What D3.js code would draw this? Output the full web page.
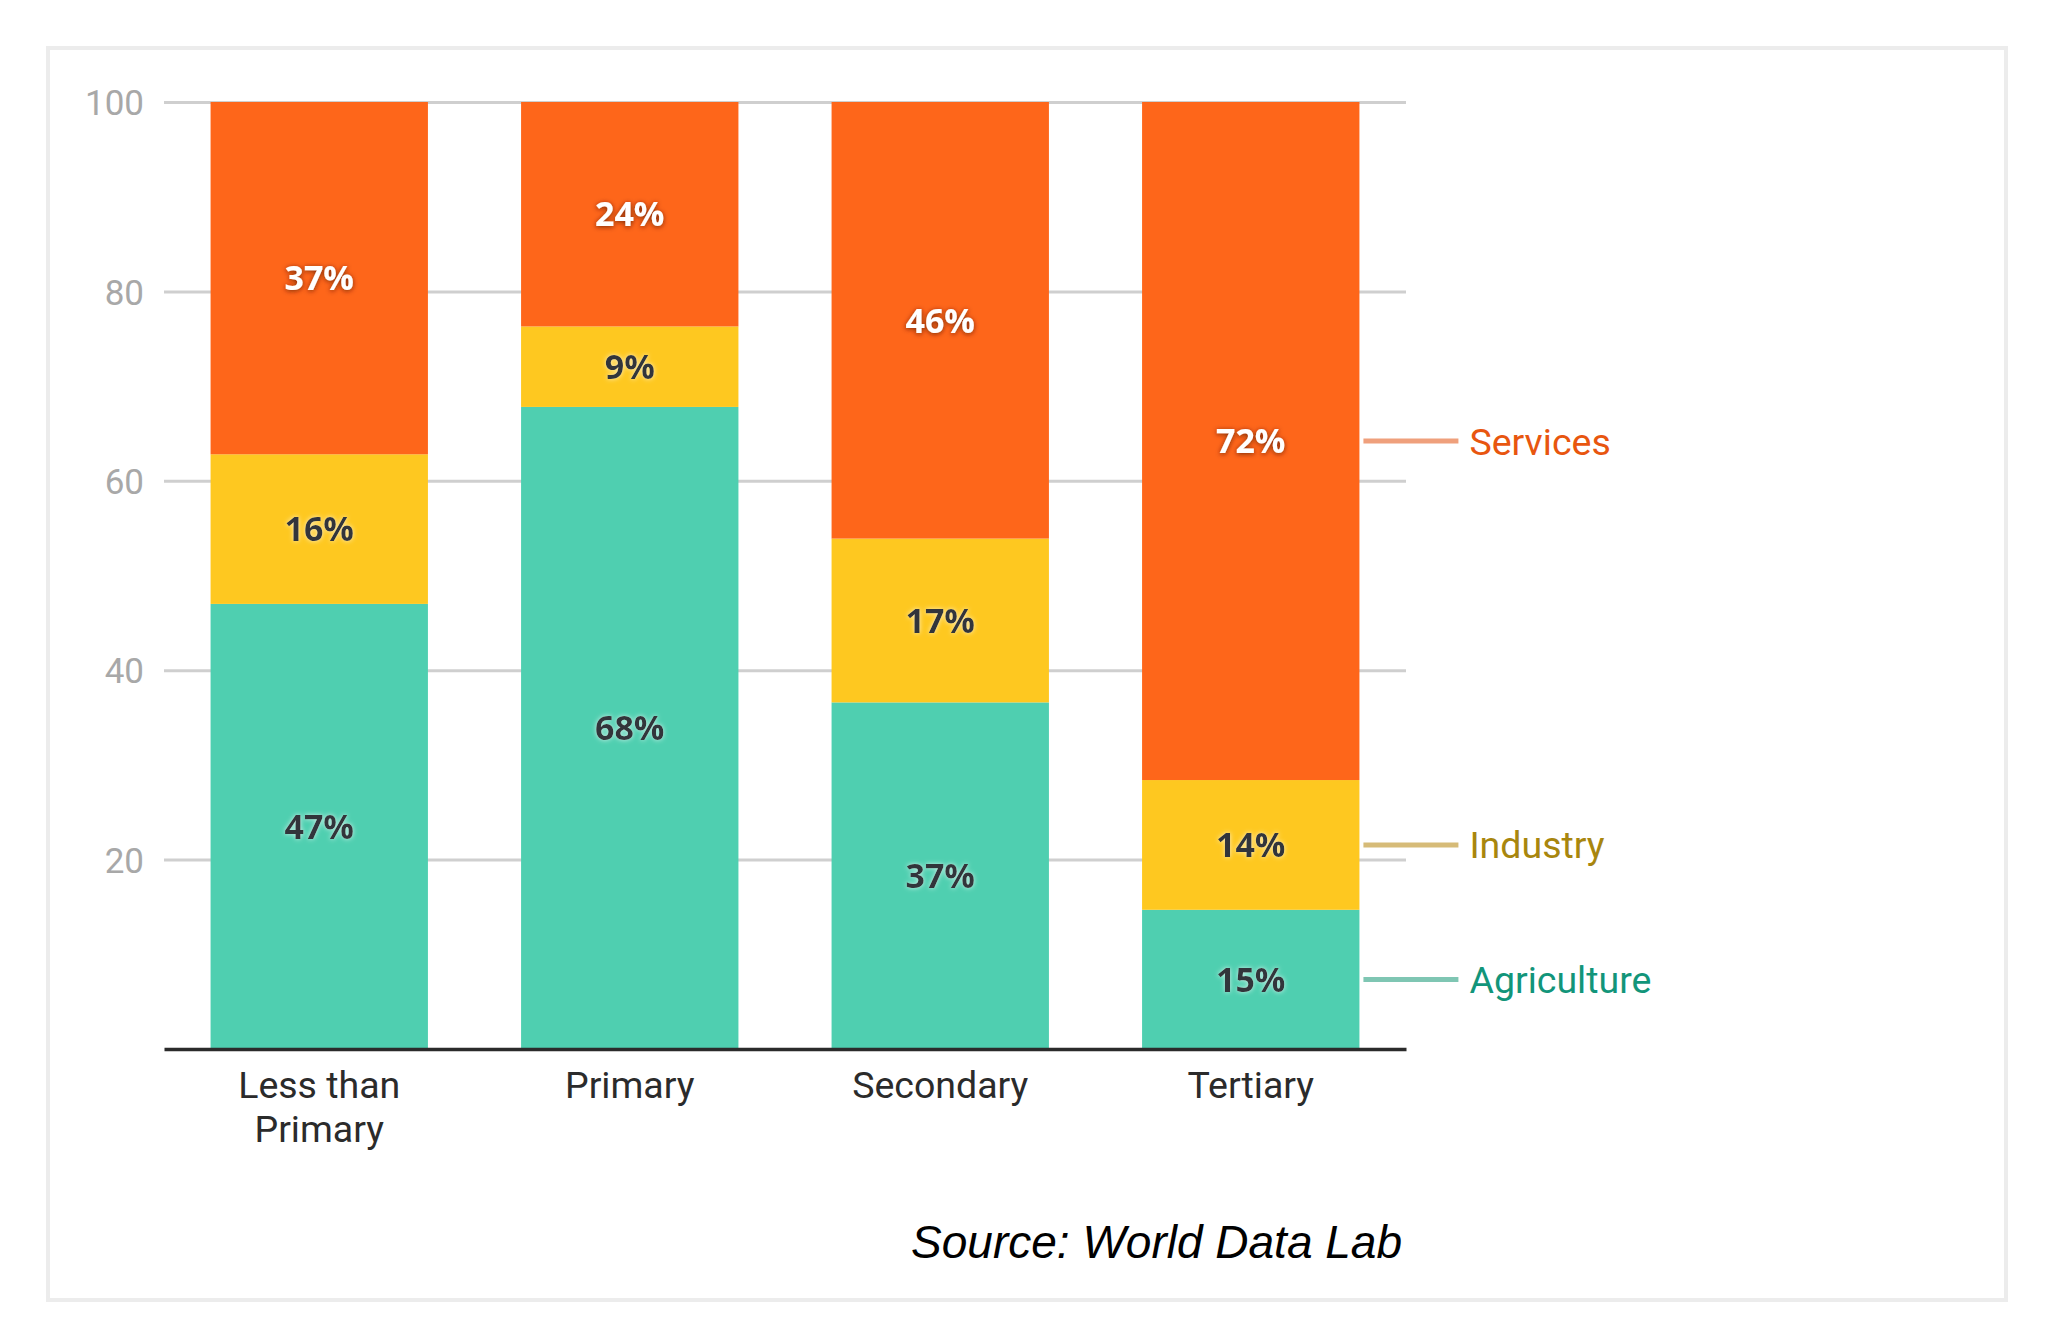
<!DOCTYPE html>
<html>
<head>
<meta charset="utf-8">
<script src="https://cdn.jsdelivr.net/npm/d3@7"></script>
<style>
  body { margin: 0; background: #fff; }
</style>
</head>
<body>
<script>
// values (percent of workers by sector)
const categories = ["Less than Primary", "Primary", "Secondary", "Tertiary"];
const agriculture = [47.0, 67.8, 36.6, 14.7];
const industry = [15.8, 8.5, 17.3, 13.7];
const services = [37.2, 23.7, 46.1, 71.6];
const seriesNames = ["Agriculture", "Industry", "Services"];
const yTicks = [20, 40, 60, 80, 100];
const sourceText = "Source: World Data Lab";

const W = 2048, H = 1328;
const plotLeft = 164, plotRight = 1406, plotTop = 102, plotBottom = 1049;

const barColour = { Agriculture: "#4fcfb0", Industry: "#fec820", Services: "#fe661a" };
const legendLine = { Agriculture: "#7fc6b3", Industry: "#d6bb78", Services: "#efa07c" };
const legendText = { Agriculture: "#12957a", Industry: "#a8860e", Services: "#e8560f" };

// table for d3.stack
const rows = categories.map((c, i) => ({
  category: c,
  Agriculture: agriculture[i],
  Industry: industry[i],
  Services: services[i]
}));
const stacked = d3.stack().keys(seriesNames)(rows);

const svg = d3.select("body").append("svg")
  .attr("width", W)
  .attr("height", H)
  .attr("viewBox", `0 0 ${W} ${H}`);

const defs = svg.append("defs");
defs.append("filter").attr("id", "darkShadow")
  .attr("x", "-30%").attr("y", "-50%").attr("width", "160%").attr("height", "200%")
  .append("feDropShadow")
  .attr("dx", 0).attr("dy", 1).attr("stdDeviation", 2.5)
  .attr("flood-color", "#5a1a00").attr("flood-opacity", 0.8);
defs.append("filter").attr("id", "lightGlow")
  .attr("x", "-30%").attr("y", "-50%").attr("width", "160%").attr("height", "200%")
  .append("feDropShadow")
  .attr("dx", 0).attr("dy", 0).attr("stdDeviation", 2.5)
  .attr("flood-color", "#ffffff").attr("flood-opacity", 0.7);

// outer frame
svg.append("rect")
  .attr("x", 48).attr("y", 48)
  .attr("width", 1958).attr("height", 1252)
  .attr("fill", "#fff")
  .attr("stroke", "#ececec")
  .attr("stroke-width", 4);

const x = d3.scaleBand()
  .domain(categories)
  .range([plotLeft, plotRight])
  .paddingInner(0.3)
  .paddingOuter(0.15);

const y = d3.scaleLinear()
  .domain([0, 100])
  .range([plotBottom, plotTop]);

// y axis with gridlines
const yAxis = svg.append("g")
  .attr("transform", `translate(${plotLeft},0)`)
  .call(d3.axisLeft(y).tickValues(yTicks).tickSize(-(plotRight - plotLeft)).tickPadding(20));
yAxis.select(".domain").remove();
yAxis.selectAll(".tick line")
  .attr("stroke", "#cfcfcf")
  .attr("stroke-width", 3);
yAxis.selectAll(".tick text")
  .attr("fill", "#a8a8a8")
  .attr("font-family", "Roboto")
  .attr("font-size", 35)
  .attr("dy", "0.36em");

// stacked bars
const layer = svg.append("g").selectAll("g")
  .data(stacked)
  .join("g")
  .attr("fill", d => barColour[d.key]);

layer.selectAll("rect")
  .data(d => d)
  .join("rect")
  .attr("x", d => x(d.data.category))
  .attr("y", d => y(d[1]))
  .attr("width", x.bandwidth())
  .attr("height", d => y(d[0]) - y(d[1]));

// value labels
const labels = svg.append("g").selectAll("g")
  .data(stacked)
  .join("g");

labels.selectAll("text")
  .data(d => d.map(v => ({ key: d.key, v })))
  .join("text")
  .attr("x", d => x(d.v.data.category) + x.bandwidth() / 2)
  .attr("y", d => y((d.v[0] + d.v[1]) / 2))
  .attr("dy", "0.36em")
  .attr("text-anchor", "middle")
  .attr("font-family", "Open Sans")
  .attr("font-weight", 700)
  .attr("font-size", 34)
  .attr("fill", d => d.key === "Services" ? "#ffffff" : "#33363b")
  .attr("filter", d => d.key === "Services" ? "url(#darkShadow)" : "url(#lightGlow)")
  .text(d => Math.round(d.v[1] - d.v[0]) + "%");

// x axis
const xAxis = svg.append("g")
  .attr("transform", `translate(0,${plotBottom})`)
  .call(d3.axisBottom(x).tickSize(0).tickPadding(0));
xAxis.select(".domain")
  .attr("stroke", "#2b2b2b")
  .attr("stroke-width", 3.5);
xAxis.selectAll(".tick text")
  .attr("fill", "#2b2b2b")
  .attr("font-family", "Roboto")
  .attr("font-size", 37.5)
  .attr("y", 49)
  .attr("dy", 0)
  .each(function(d) {
    const t = d3.select(this);
    const words = d.split(" ");
    const lines = words.length > 2 ? [words.slice(0, 2).join(" "), words.slice(2).join(" ")] : [d];
    t.text(null);
    lines.forEach((ln, i) => {
      t.append("tspan").attr("x", 0).attr("dy", i === 0 ? 0 : 44).text(ln);
    });
  });

// legend beside the last bar
const last = categories[categories.length - 1];
const lx = x(last) + x.bandwidth();
const legend = svg.append("g").selectAll("g")
  .data(stacked)
  .join("g")
  .attr("transform", d => {
    const seg = d.find(v => v.data.category === last);
    return `translate(${lx},${y((seg[0] + seg[1]) / 2)})`;
  });
legend.append("line")
  .attr("x1", 4).attr("x2", 99)
  .attr("stroke", d => legendLine[d.key])
  .attr("stroke-width", 5);
legend.append("text")
  .attr("x", 110)
  .attr("dy", "0.36em")
  .attr("font-family", "Roboto")
  .attr("font-size", 37.5)
  .attr("fill", d => legendText[d.key])
  .text(d => d.key);

// source note
svg.append("text")
  .attr("x", 1402)
  .attr("y", 1258)
  .attr("text-anchor", "end")
  .attr("font-family", "Liberation Sans")
  .attr("font-style", "italic")
  .attr("font-size", 46)
  .attr("fill", "#000")
  .text(sourceText);
</script>
</body>
</html>
